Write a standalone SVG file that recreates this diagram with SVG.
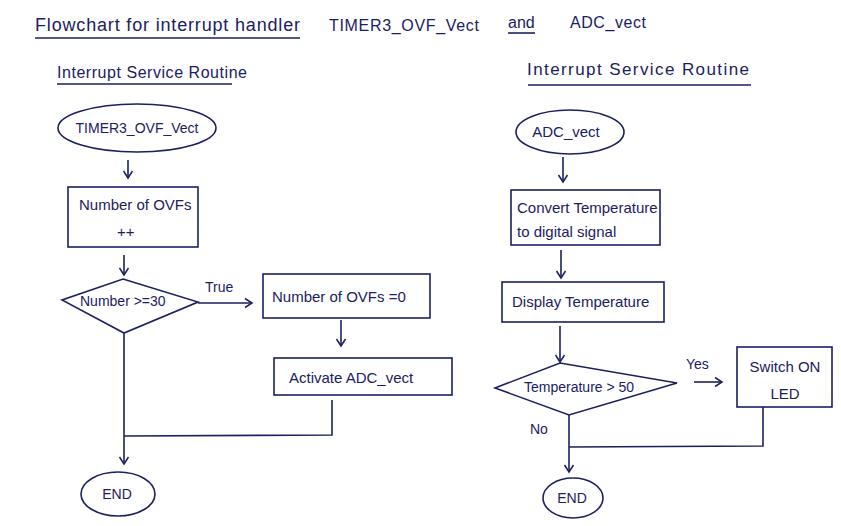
<svg xmlns="http://www.w3.org/2000/svg" width="841" height="526" viewBox="0 0 841 526">
<defs>
<marker id="arr" markerWidth="12" markerHeight="12" refX="9" refY="6" orient="auto" markerUnits="userSpaceOnUse">
<path d="M2,1.5 L9,6 L2,10.5" fill="none" stroke="#1b2160" stroke-width="1.5"/>
</marker>
<style>
.s{fill:none;stroke:#1b2160;stroke-width:1.6}
.t{font-family:"Liberation Sans",Arial,sans-serif;fill:#1b2160}
.c{text-anchor:middle}
.c2{fill:none;stroke:#1b2160;stroke-width:1.6}
</style>
</defs>
<rect width="841" height="526" fill="#ffffff"/>
<g id="titles">
<text class="t" x="35" y="31" font-size="18" textLength="265">Flowchart for interrupt handler</text>
<line class="s" x1="35" y1="38" x2="300" y2="38"/>
<text class="t" x="329" y="31" font-size="16" textLength="150">TIMER3_OVF_Vect</text>
<text class="t" x="508" y="28" font-size="16">and</text>
<line class="s" x1="508" y1="33" x2="535" y2="33"/>
<text class="t" x="570" y="28" font-size="16" textLength="76">ADC_vect</text>
<text class="t" x="57" y="78" font-size="16" textLength="190">Interrupt Service Routine</text>
<line class="s" x1="57" y1="84" x2="232" y2="84"/>
<text class="t" x="527" y="75" font-size="17" textLength="222">Interrupt Service Routine</text>
<line class="s" x1="528" y1="85" x2="751" y2="85"/>
</g>
<g id="timer3_ovf_vect">
<ellipse class="s" cx="137" cy="128" rx="79" ry="24"/>
<text class="t c" x="137" y="133" font-size="14">TIMER3_OVF_Vect</text>
</g>
<g id="number_ovfs_inc">
<rect class="s" x="68" y="187" width="130" height="60"/>
<text class="t" x="79" y="210" font-size="15">Number of OVFs</text>
<text class="t" x="117" y="237" font-size="15">++</text>
</g>
<g id="decision_30">
<polygon class="s" points="123,279 198,302 124,333 62,300"/>
<text class="t" x="80" y="306" font-size="14">Number  &gt;=30</text>
</g>
<g id="reset_ovfs">
<rect class="s" x="263" y="274" width="167" height="44"/>
<text class="t" x="272" y="302" font-size="15">Number of OVFs =0</text>
</g>
<g id="activate_adc">
<rect class="s" x="274" y="358" width="178" height="37"/>
<text class="t" x="289" y="383" font-size="15">Activate ADC_vect</text>
</g>
<g id="end_left">
<ellipse class="s" cx="118" cy="494" rx="37" ry="22"/>
<text class="t c" x="117" y="499" font-size="14">END</text>
</g>
<g id="adc_vect">
<ellipse class="s" cx="570" cy="132" rx="54" ry="22"/>
<text class="t c" x="566" y="137" font-size="15">ADC_vect</text>
</g>
<g id="convert_temp">
<rect class="s" x="511" y="190" width="149" height="55"/>
<text class="t" x="517" y="213" font-size="15">Convert Temperature</text>
<text class="t" x="517" y="237" font-size="15">to digital signal</text>
</g>
<g id="display_temp">
<rect class="s" x="502" y="282" width="162" height="40"/>
<text class="t" x="512" y="307" font-size="15">Display Temperature</text>
</g>
<g id="decision_temp">
<polygon class="s" points="560,363 677,383 569,415 495,388"/>
<text class="t" x="524" y="392" font-size="14">Temperature &gt; 50</text>
</g>
<g id="switch_led">
<rect class="s" x="737" y="347" width="95" height="60"/>
<text class="t c" x="785" y="372" font-size="15">Switch ON</text>
<text class="t c" x="785" y="399" font-size="15">LED</text>
</g>
<g id="end_right">
<ellipse class="s" cx="573" cy="498" rx="30" ry="20"/>
<text class="t c" x="572" y="503" font-size="14">END</text>
</g>
<g id="connectors">
<line class="c2" x1="128" y1="160" x2="128" y2="178" marker-end="url(#arr)"/>
<line class="c2" x1="124" y1="255" x2="124" y2="275" marker-end="url(#arr)"/>
<line class="c2" x1="198" y1="303" x2="252" y2="303" marker-end="url(#arr)"/>
<text class="t" x="205" y="292" font-size="14">True</text>
<line class="c2" x1="341" y1="320" x2="341" y2="346" marker-end="url(#arr)"/>
<polyline class="c2" points="332,400 332,435 124,436"/>
<line class="c2" x1="124" y1="333" x2="124" y2="464" marker-end="url(#arr)"/>
<line class="c2" x1="563" y1="157" x2="563" y2="182" marker-end="url(#arr)"/>
<line class="c2" x1="561" y1="250" x2="561" y2="278" marker-end="url(#arr)"/>
<line class="c2" x1="560" y1="326" x2="560" y2="362" marker-end="url(#arr)"/>
<text class="t" x="686" y="369" font-size="14">Yes</text>
<line class="c2" x1="694" y1="382" x2="722" y2="382" marker-end="url(#arr)"/>
<text class="t" x="530" y="434" font-size="14">No</text>
<line class="c2" x1="569" y1="415" x2="569" y2="472" marker-end="url(#arr)"/>
<polyline class="c2" points="763,407 763,446 569,447"/>
</g>
</svg>
